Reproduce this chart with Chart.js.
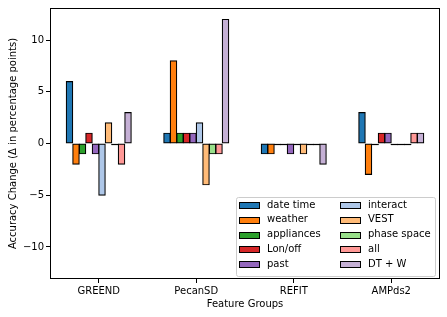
<!DOCTYPE html>
<html>
<head>
<meta charset="utf-8">
<script src="https://cdn.jsdelivr.net/npm/chart.js@4.4.0/dist/chart.umd.min.js"></script>
<style>
  html, body { margin: 0; padding: 0; background: #fff; }
  #wrap { width: 447px; height: 317px; position: relative; }
</style>
</head>
<body>
<div id="wrap"><canvas id="canvas" width="447" height="317"></canvas></div>
<script>
// categories
var grupos = ['GREEND', 'PecanSD', 'REFIT', 'AMPds2'];

// series values (one per feature group)
var dateTime   = [6, 1, -1, 3];
var weather    = [-2, 8, -1, -3];
var appliances = [-1, 1, 0, 0];
var lonOff     = [1, 1, 0, 1];
var past       = [-1, 1, -1, 1];
var interact   = [-5, 2, 0, 0];
var vest       = [2, -4, -1, 0];
var phaseSpace = [0, -1, 0, 0];
var todo       = [-2, -1, 0, 1];
var dtW        = [3, 12, -2, 1];

var nombres = ['date time', 'weather', 'appliances', 'Lon/off', 'past',
               'interact', 'VEST', 'phase space', 'all', 'DT + W'];
var series = [dateTime, weather, appliances, lonOff, past,
              interact, vest, phaseSpace, todo, dtW];
var colores = ['#1f77b4', '#ff7f0e', '#2ca02c', '#d62728', '#9467bd',
               '#aec7e8', '#ffbb78', '#98df8a', '#ff9896', '#c5b0d5'];

var yTicks = [-10, -5, 0, 5, 10];

var FONT = 'DejaVu Sans';

var datasets = [];
for (var i = 0; i < series.length; i++) {
  datasets.push({
    label: nombres[i],
    data: series[i],
    backgroundColor: colores[i],
    borderColor: '#000',
    borderWidth: 1.2,
    borderSkipped: false,
    inflateAmount: 0.5
  });
}

// marco del area del grafico + linea en cero + leyenda
var marco = {
  id: 'marco',
  beforeDatasetsDraw: function (chart) {
    var c = chart.ctx;
    var y0 = Math.round(chart.scales.y.getPixelForValue(0)) + 0.5;
    c.save();
    c.strokeStyle = '#000';
    c.lineWidth = 1.2;
    // las barras en cero tambien dibujan su borde
    chart.data.datasets.forEach(function (ds, di) {
      var meta = chart.getDatasetMeta(di);
      meta.data.forEach(function (bar, j) {
        if (ds.data[j] === 0) {
          c.beginPath();
          c.moveTo(bar.x - bar.width / 2 - 0.5, y0);
          c.lineTo(bar.x + bar.width / 2 + 0.5, y0);
          c.stroke();
        }
      });
    });
    c.restore();
  },
  afterDraw: function (chart) {
    var a = chart.chartArea, c = chart.ctx;
    c.save();
    c.strokeStyle = '#000';
    c.lineWidth = 1;
    c.strokeRect(Math.round(a.left) + 0.5, Math.round(a.top) + 0.5,
                 Math.round(a.right - a.left) - 1, Math.round(a.bottom - a.top) - 1);

    // leyenda dentro del grafico, abajo a la derecha
    var lx = 236, ly = 197, lw = 199, lh = 79;
    c.fillStyle = 'rgba(255,255,255,0.8)';
    c.strokeStyle = '#cccccc';
    c.beginPath();
    c.roundRect(lx + 0.5, ly + 0.5, lw, lh, 2);
    c.fill();
    c.stroke();
    c.font = '10px "' + FONT + '"';
    c.textBaseline = 'middle';
    c.textAlign = 'left';
    var cols = [{ sx: 239, tx: 267 }, { sx: 340, tx: 368 }];
    for (var k = 0; k < nombres.length; k++) {
      var col = cols[Math.floor(k / 5)];
      var cy = 205 + (k % 5) * 14.8;
      c.fillStyle = colores[k];
      c.fillRect(col.sx, Math.round(cy - 3), 21, 7);
      c.strokeStyle = '#000';
      c.strokeRect(col.sx + 0.5, Math.round(cy - 3) + 0.5, 20, 6);
      c.fillStyle = '#000';
      c.fillText(nombres[k], col.tx, cy);
    }
    c.restore();
  }
};

var ctx = document.getElementById('canvas').getContext('2d');
var chart = new Chart(ctx, {
  type: 'bar',
  data: { labels: grupos, datasets: datasets },
  options: {
    responsive: false,
    animation: false,
    devicePixelRatio: 1,
    layout: { padding: { top: 7, right: 7, left: 0, bottom: 0 } },
    datasets: {
      bar: { categoryPercentage: 0.667, barPercentage: 1.0 }
    },
    plugins: {
      legend: { display: false },
      tooltip: { enabled: false }
    },
    scales: {
      x: {
        grid: { offset: false, drawOnChartArea: false, drawTicks: true, tickLength: 4, color: '#000' },
        border: { display: false },
        ticks: { color: '#000', padding: 2, font: { family: FONT, size: 10 } },
        title: {
          display: true, text: 'Feature Groups', color: '#000',
          font: { family: FONT, size: 10 }, padding: { top: 1, bottom: 7 }
        },
        afterFit: function (s) { s.height = 38; }
      },
      y: {
        min: -13.1,
        max: 13.1,
        afterBuildTicks: function (s) {
          s.ticks = yTicks.map(function (v) { return { value: v }; });
        },
        grid: { drawOnChartArea: false, drawTicks: true, tickLength: 4, color: '#000' },
        border: { display: false },
        ticks: {
          color: '#000', padding: 2, font: { family: FONT, size: 10 },
          callback: function (v) { return v < 0 ? '\u2212' + Math.abs(v) : String(v); }
        },
        title: {
          display: true, text: 'Accuracy Change (\u0394 in percentage points)', color: '#000',
          font: { family: FONT, size: 10 }, padding: { top: 7, bottom: 0 }
        },
        afterFit: function (s) { s.width = 50; }
      }
    }
  },
  plugins: [marco]
});
</script>
</body>
</html>
